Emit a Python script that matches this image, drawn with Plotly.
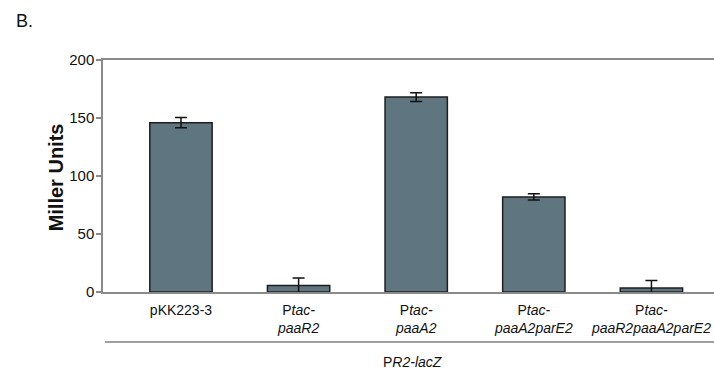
import plotly.graph_objects as go

# Strains tested on the PR2-lacZ reporter
strain_labels = [
    "pKK223-3",
    "P<i>tac-</i><br><i>paaR2</i>",
    "P<i>tac-</i><br><i>paaA2</i>",
    "P<i>tac-</i><br><i>paaA2parE2</i>",
    "P<i>tac-</i><br><i>paaR2paaA2parE2</i>",
]
miller_units = [146, 5.5, 168, 82, 3.5]
miller_err = [4.5, 6.5, 3.7, 2.7, 6.5]
y_ticks = [0, 50, 100, 150, 200]

positions = list(range(len(strain_labels)))

fig = go.Figure()
fig.add_trace(go.Bar(
    x=positions,
    y=miller_units,
    width=0.53,
    marker=dict(color="#5f7681", line=dict(color="#1e1e1e", width=1.5)),
    error_y=dict(type="data", array=miller_err, visible=True,
                 color="#111111", thickness=1.5, width=6),
    showlegend=False,
))

axis_grey = "#8a8a8a"
font_family = "Liberation Sans, Arial, sans-serif"

fig.update_layout(
    width=714, height=373,
    margin=dict(l=103, r=0, t=60, b=81),
    paper_bgcolor="white", plot_bgcolor="white",
    font=dict(family=font_family, color="#111111"),
    xaxis=dict(
        range=[-0.663, 4.532],
        tickvals=positions, ticktext=strain_labels,
        tickfont=dict(size=14, family=font_family, color="#111111"),
        ticklabelstandoff=4,
        showline=True, linecolor=axis_grey, linewidth=2, mirror=True,
        showgrid=False, zeroline=False, ticks="",
    ),
    yaxis=dict(
        range=[0, 200],
        tickvals=y_ticks,
        tickfont=dict(size=15, family=font_family, color="#111111"),
        ticklabelstandoff=-1,
        showline=True, linecolor=axis_grey, linewidth=1.5,
        ticks="outside", ticklen=5, tickcolor=axis_grey, tickwidth=1.5,
        showgrid=False, zeroline=False,
    ),
    shapes=[dict(
        type="line", xref="paper", yref="paper",
        x0=0.003, x1=1.0, y0=-0.2155, y1=-0.2155,
        line=dict(color="#a0a0a0", width=2),
    )],
    annotations=[
        dict(text="B.", xref="paper", yref="paper", x=-0.145, y=1.168,
             xanchor="left", yanchor="middle", showarrow=False,
             font=dict(size=18, family=font_family, color="#111111")),
        dict(text="<b>Miller Units</b>", xref="paper", yref="paper",
             x=-0.077, y=0.494, textangle=-90,
             xanchor="center", yanchor="middle", showarrow=False,
             font=dict(size=20, family=font_family, color="#111111")),
        dict(text="P<i>R2-lacZ</i>", xref="paper", yref="paper",
             x=0.506, y=-0.302, xanchor="center", yanchor="middle",
             showarrow=False,
             font=dict(size=14, family=font_family, color="#111111")),
    ],
)

fig.write_html("out.html")
